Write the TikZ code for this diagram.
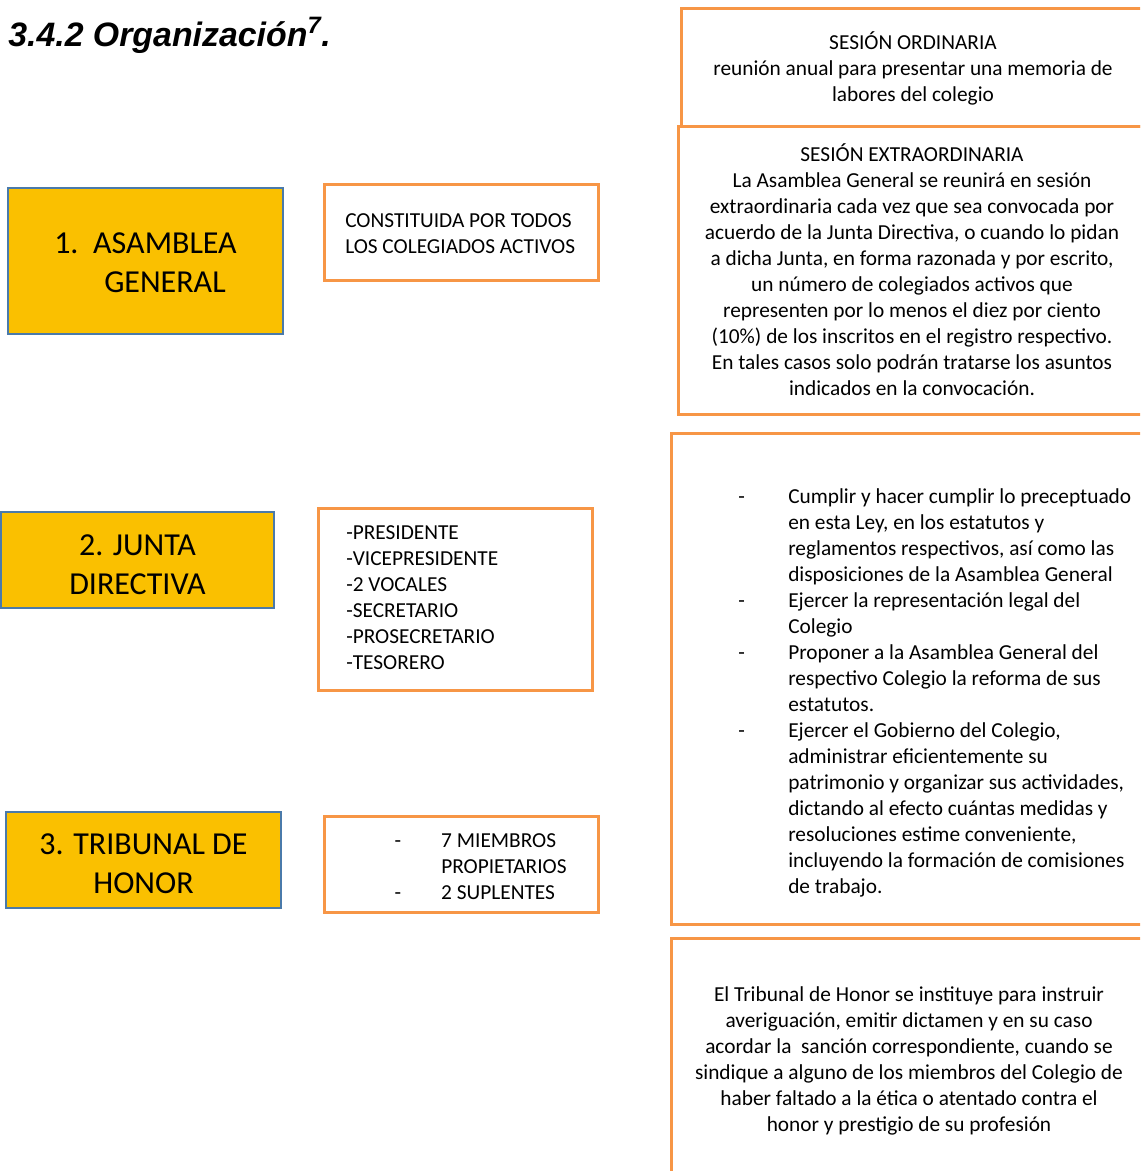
\documentclass[tikz,border=0pt]{standalone}
\usepackage{fontspec}
\setmainfont{Carlito}
\newfontfamily\titlefont{Liberation Sans}
\definecolor{orangeC}{HTML}{F79646}
\definecolor{goldC}{HTML}{FAC000}
\definecolor{blueC}{HTML}{4A7AAA}
\begin{document}
\begin{tikzpicture}[x=0.75pt,y=-0.75pt,
  obox/.style={draw=orangeC, line width=2.25pt, inner sep=0pt, outer sep=0pt, anchor=north west},
  ybox/.style={draw=blueC, fill=goldC, line width=1.8pt, inner sep=0pt, outer sep=0pt, anchor=north west},
  txt/.style={font=\fontsize{16}{19.5}\selectfont, inner sep=0pt, anchor=base, align=center},
  ltxt/.style={font=\fontsize{16}{19.5}\selectfont, inner sep=0pt, anchor=base west, align=left},
  big/.style={font=\fontsize{24}{29.25}\selectfont, inner sep=0pt, anchor=base, align=center}]
\clip (0,0) rectangle (1140,1171);
\fill[white] (0,0) rectangle (1140,1171);

% title
\node[inner sep=0pt, anchor=base west, font=\titlefont\fontsize{25.4}{30}\selectfont\bfseries\itshape] (title) at (8,46) {3.4.2 Organización\textsuperscript{7}.};

% right boxes
\node[obox, minimum width=359.25pt, minimum height=88.5pt] (boxA) at (681,8) {};
\node[obox, minimum width=361.5pt, minimum height=216pt] (boxB) at (678,126) {};
\node[obox, minimum width=366.75pt, minimum height=368.25pt] (boxC) at (671,433) {};
\node[obox, minimum width=366.75pt, minimum height=189pt] (boxD) at (671,938) {};

\node[txt] (tA) at (913,101) {SESIÓN ORDINARIA\\reunión anual para presentar una memoria de\\labores del colegio};

\node[txt] (tB) at (912,395) {SESIÓN EXTRAORDINARIA\\
La Asamblea General se reunirá en sesión\\
extraordinaria cada vez que sea convocada por\\
acuerdo de la Junta Directiva, o cuando lo pidan\\
a dicha Junta, en forma razonada y por escrito,\\
un número de colegiados activos que\\
representen por lo menos el diez por ciento\\
(10\%) de los inscritos en el registro respectivo.\\
En tales casos solo podrán tratarse los asuntos\\
indicados en la convocación.};

\node[ltxt] (tC) at (788,893) {\llap{-\hspace{32.6pt}}Cumplir y hacer cumplir lo preceptuado\\
en esta Ley, en los estatutos y\\
reglamentos respectivos, así como las\\
disposiciones de la Asamblea General\\
\llap{-\hspace{32.6pt}}Ejercer la representación legal del\\
Colegio\\
\llap{-\hspace{32.6pt}}Proponer a la Asamblea General del\\
respectivo Colegio la reforma de sus\\
estatutos.\\
\llap{-\hspace{32.6pt}}Ejercer el Gobierno del Colegio,\\
administrar eficientemente su\\
patrimonio y organizar sus actividades,\\
dictando al efecto cuántas medidas y\\
resoluciones estime conveniente,\\
incluyendo la formación de comisiones\\
de trabajo.};

\node[txt] (tD) at (909,1131) {El Tribunal de Honor se instituye para instruir\\
averiguación, emitir dictamen y en su caso\\
acordar la \ sanción correspondiente, cuando se\\
sindique a alguno de los miembros del Colegio de\\
haber faltado a la ética o atentado contra el\\
honor y prestigio de su profesión};

% left yellow boxes
\node[ybox, minimum width=206.25pt, minimum height=109.5pt] (y1) at (8,188) {};
\node[big] (y1a) at (145.5,253) {1.\hspace{11pt}ASAMBLEA};
\node[big, anchor=base west] (y1b) at (104,292) {GENERAL};

\node[ybox, minimum width=204.75pt, minimum height=72pt] (y2) at (1,512) {};
\node[big] (y2t) at (137.5,594) {2. JUNTA\\DIRECTIVA};

\node[ybox, minimum width=206.25pt, minimum height=72pt] (y3) at (6,812) {};
\node[big] (y3t) at (143.5,893) {3. TRIBUNAL DE\\HONOR};

% middle orange boxes
\node[obox, minimum width=205.5pt, minimum height=72pt] (o1) at (324,184) {};
\node[ltxt] (o1t) at (345,253) {CONSTITUIDA POR TODOS\\LOS COLEGIADOS ACTIVOS};

\node[obox, minimum width=205.5pt, minimum height=136.5pt] (o2) at (318,508) {};
\node[ltxt] (o2t) at (346,669) {-PRESIDENTE\\-VICEPRESIDENTE\\-2 VOCALES\\-SECRETARIO\\-PROSECRETARIO\\-TESORERO};

\node[obox, minimum width=205.5pt, minimum height=72pt] (o3) at (324,816) {};
\node[ltxt] (o3t) at (441,899) {\llap{-\hspace{30pt}}7 MIEMBROS\\PROPIETARIOS\\\llap{-\hspace{30pt}}2 SUPLENTES};
\end{tikzpicture}
\end{document}
